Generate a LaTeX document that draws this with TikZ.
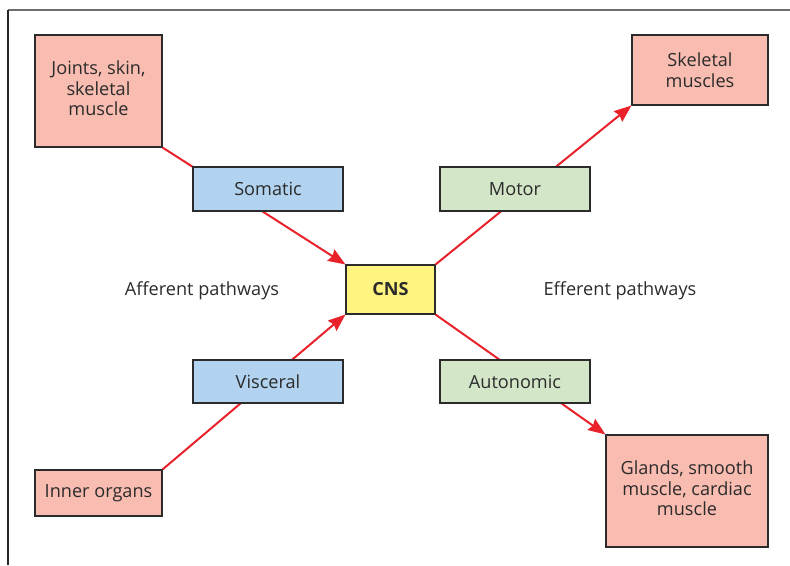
\documentclass[tikz,border=0pt]{standalone}
\usepackage{fontspec}
\setmainfont{Open Sans}
\usepackage{xcolor}
\usepackage{tikz}
\usetikzlibrary{arrows.meta}

\definecolor{organfill}{HTML}{F9BCB0}
\definecolor{afffill}{HTML}{B2D3EF}
\definecolor{efffill}{HTML}{D3E6C8}
\definecolor{cnsfill}{HTML}{FFF47F}
\definecolor{pathred}{HTML}{E8212B}
\definecolor{txtgray}{HTML}{2B2B2B}
\definecolor{framegray}{HTML}{6E6E6E}

\begin{document}
\begin{tikzpicture}[
  x=0.75pt, y=-0.75pt,
  every node/.style={align=center, text=txtgray, font=\fontsize{13.6}{15.4}\selectfont},
  box/.style={draw=txtgray, line width=0.8pt, inner sep=0pt},
  organ/.style={box, fill=organfill},
  path/.style={draw=pathred, line width=1.5pt, -{Stealth[length=13pt, width=10pt, inset=1.5pt]}}
]
\useasboundingbox (0,0) rectangle (790,565);
\coordinate (frametop) at (790,10);
\coordinate (framecorner) at (8,10);
\coordinate (framebottom) at (8,565);
\draw[framegray, line width=1.4pt] (frametop) -- (framecorner);
\draw[black!85, line width=1pt] (framecorner) -- (framebottom);

\node[organ, minimum width=95.25pt, minimum height=84pt] (joints) at (98.5,91) {\raisebox{3pt}{\begin{tabular}{@{}c@{}}Joints, skin,\\skeletal\\muscle\end{tabular}}};
\node[organ, minimum width=102pt, minimum height=52.5pt] (skel) at (700,70) {Skeletal\\muscles};
\node[organ, minimum width=95.25pt, minimum height=34.5pt] (inner) at (98.5,493) {Inner organs};
\node[organ, minimum width=121.5pt, minimum height=84pt] (glands) at (687,491) {\raisebox{3pt}{\begin{tabular}{@{}c@{}}Glands, smooth\\muscle, cardiac\\muscle\end{tabular}}};
\node[box, fill=cnsfill, minimum width=66.75pt, minimum height=36.75pt] (cns) at (390.5,289.5) {\textbf{CNS}};

\node (aff) at (202,291) {Afferent pathways};
\node (eff) at (620,291) {Efferent pathways};

% pathways go under the middle boxes
\draw[path] (joints.south east) -- (cns.north west);
\draw[path] (inner.north east) -- (cns.south west);
\draw[path] (cns.north east) -- (skel.south west);
\draw[path] (cns.south east) -- (glands.north west);

\node[box, fill=afffill, minimum width=112.5pt, minimum height=33pt] (somatic) at (268,189) {Somatic};
\node[box, fill=afffill, minimum width=112.5pt, minimum height=32.25pt] (visceral) at (268,381.5) {Visceral};
\node[box, fill=efffill, minimum width=112.5pt, minimum height=33pt] (motor) at (515,189) {Motor};
\node[box, fill=efffill, minimum width=112.5pt, minimum height=32.25pt] (autonomic) at (515,381.5) {Autonomic};
\end{tikzpicture}
\end{document}
